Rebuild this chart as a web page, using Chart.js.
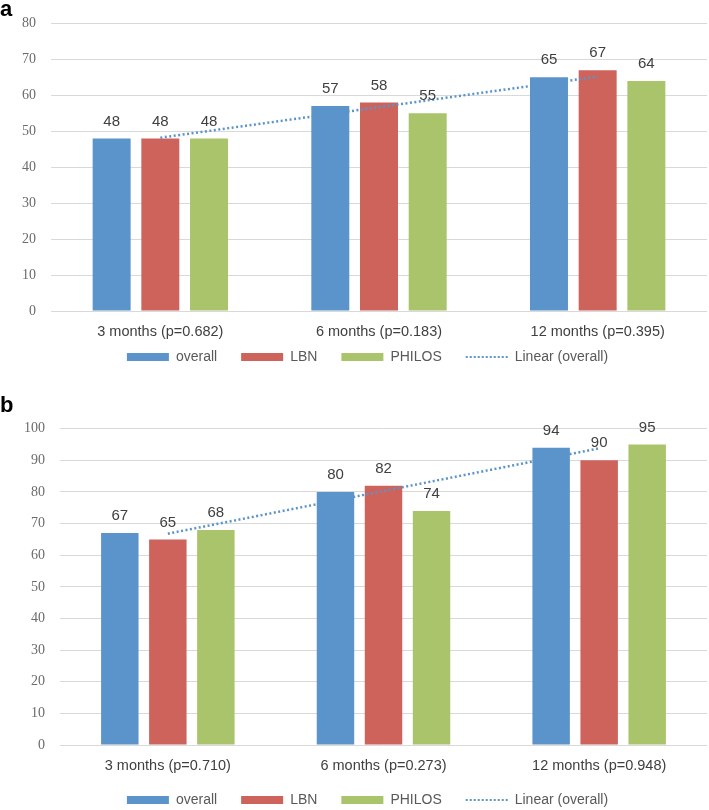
<!DOCTYPE html>
<html lang="en">
<head>
    <meta charset="UTF-8">
    <title>Outcome by follow-up</title>
    <script src="https://cdn.jsdelivr.net/npm/chart.js"></script>
    <style>
        body { margin: 0; background: #fff; }
        #wrap { position: relative; width: 709px; height: 810px; overflow: hidden; }
        .tag { position: absolute; left: 0; font: bold 22px "Liberation Sans", Arial, sans-serif; line-height: 22px; color: #000; }
        .box { position: absolute; left: 0; width: 709px; }
    </style>
</head>
<body>
<div id="wrap">
    <div class="box" style="top:0;height:374px"><canvas id="chartA"></canvas></div>
    <div class="box" style="top:370px;height:447px"><canvas id="chartB"></canvas></div>
    <div class="tag" style="top:-2px">a</div>
    <div class="tag" style="top:394px">b</div>
</div>
<script>
    // panel a
    const categoriesA = ['3 months (p=0.682)', '6 months (p=0.183)', '12 months (p=0.395)'];
    const overallA = [48, 57, 65];
    const lbnA = [48, 58, 67];
    const philosA = [48, 55, 64];
    const trendA = [48.2, 56.7, 65.2];
    const yTicksA = [0, 10, 20, 30, 40, 50, 60, 70, 80];

    // panel b
    const categoriesB = ['3 months (p=0.710)', '6 months (p=0.273)', '12 months (p=0.948)'];
    const overallB = [67, 80, 94];
    const lbnB = [65, 82, 90];
    const philosB = [68, 74, 95];
    const trendB = [66.8, 80.3, 93.8];
    const yTicksB = [0, 10, 20, 30, 40, 50, 60, 70, 80, 90, 100];

    const seriesNames = ['overall', 'LBN', 'PHILOS', 'Linear (overall)'];
    const colors = ['#5b94ca', '#cd635b', '#a9c46b'];

    // value labels over the bars
    const barValues = {
        id: 'barValues',
        afterDatasetsDraw(chart) {
            const ctx = chart.ctx;
            ctx.save();
            ctx.font = '15px "Liberation Sans", Arial, sans-serif';
            ctx.fillStyle = '#404040';
            ctx.textAlign = 'center';
            ctx.textBaseline = 'bottom';
            chart.data.datasets.forEach((ds, i) => {
                if (ds.type === 'line') return;
                chart.getDatasetMeta(i).data.forEach((el, j) => {
                    ctx.fillText(ds.data[j], el.x, el.y - 9.5);
                });
            });
            ctx.restore();
        }
    };

    // nudge the legend row a little to the right, like the original
    const legendShift = {
        id: 'legendShift',
        afterLayout(chart) {
            if (chart.legend) {
                chart.legend.left += 14;
                chart.legend.right += 14;
            }
        }
    };

    function makeChart(id, cats, overall, lbn, philos, trend, yTicks, o) {
        const bars = [overall, lbn, philos].map((d, i) => ({
            label: seriesNames[i],
            data: d,
            backgroundColor: colors[i],
            borderWidth: 0,
            categoryPercentage: 0.668,
            barPercentage: 0.78,
            order: 1
        }));
        return new Chart(document.getElementById(id), {
            type: 'bar',
            data: {
                labels: cats,
                datasets: [...bars, {
                    type: 'line',
                    label: seriesNames[3],
                    data: trend,
                    borderColor: '#5b94ca',
                    borderWidth: 2.5,
                    borderDash: [2, 2.5],
                    pointRadius: 0,
                    fill: false,
                    order: 0
                }]
            },
            plugins: [barValues, legendShift],
            options: {
                responsive: true,
                maintainAspectRatio: false,
                animation: false,
                layout: { padding: { top: o.top, right: o.right, left: 0, bottom: 0 } },
                plugins: {
                    tooltip: { enabled: false },
                    legend: {
                        position: 'bottom',
                        labels: {
                            usePointStyle: true,
                            pointStyleWidth: 42,
                            boxHeight: 8,
                            padding: 10,
                            color: '#595959',
                            font: { size: 14, family: '"Liberation Sans", Arial, sans-serif' },
                            generateLabels(chart) {
                                // trailing en spaces widen the gap between entries
                                return seriesNames.map((name, i) => ({
                                    text: i < 3 ? name + '\u2002\u2002' : name,
                                    datasetIndex: i,
                                    fillStyle: i < 3 ? colors[i] : 'rgba(0,0,0,0)',
                                    strokeStyle: '#5b94ca',
                                    lineWidth: i < 3 ? 0 : 2,
                                    lineDash: i < 3 ? [] : [2, 2],
                                    pointStyle: i < 3 ? 'rect' : 'line',
                                    fontColor: '#595959',
                                    hidden: false
                                }));
                            }
                        }
                    }
                },
                scales: {
                    x: {
                        grid: { display: false, drawTicks: false },
                        border: { display: false },
                        ticks: {
                            padding: 12,
                            color: '#404040',
                            font: { size: 14.5, family: '"Liberation Sans", Arial, sans-serif' }
                        },
                        afterFit: s => { s.height = o.xHeight; }
                    },
                    y: {
                        min: yTicks[0],
                        max: yTicks[yTicks.length - 1],
                        afterBuildTicks: s => { s.ticks = yTicks.map(v => ({ value: v })); },
                        grid: { color: '#d9d9d9', lineWidth: 1, drawTicks: false },
                        border: { display: false },
                        ticks: {
                            padding: 15,
                            color: '#6b6b6b',
                            font: { size: 14, family: '"Liberation Serif", serif' }
                        },
                        afterFit: s => { s.width = o.yWidth; }
                    }
                }
            }
        });
    }

    makeChart('chartA', categoriesA, overallA, lbnA, philosA, trendA, yTicksA,
        { top: 22, right: 2, yWidth: 51, xHeight: 29 });
    makeChart('chartB', categoriesB, overallB, lbnB, philosB, trendB, yTicksB,
        { top: 58.7, right: 2, yWidth: 60, xHeight: 38 });
</script>
</body>
</html>
